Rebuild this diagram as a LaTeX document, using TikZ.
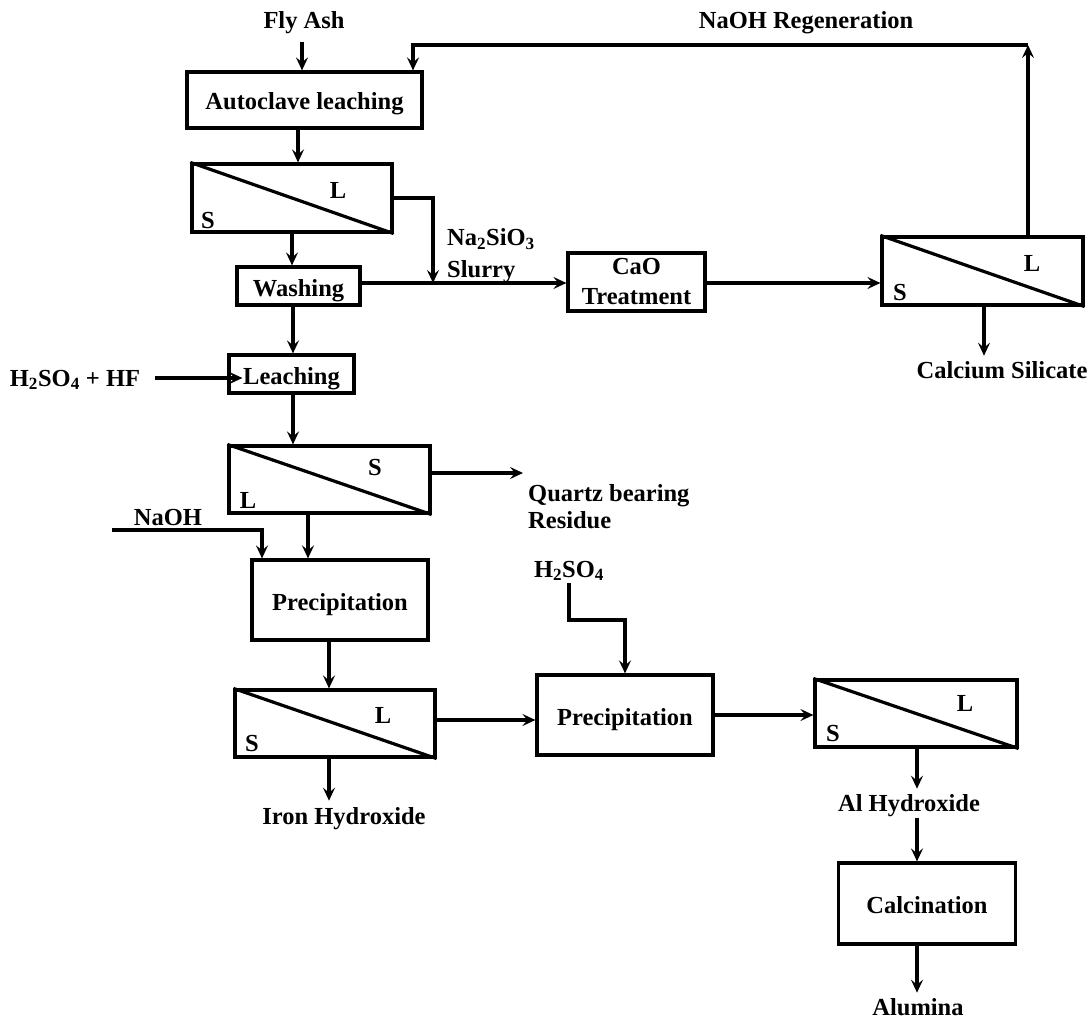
\documentclass[tikz,border=0pt]{standalone}
\usepackage{fontspec}
\setmainfont{Liberation Serif}
\usetikzlibrary{arrows.meta}
\begin{document}
\begin{tikzpicture}[x=1pt,y=-1pt,
  every node/.style={font=\fontsize{24.5}{30}\selectfont\bfseries, inner sep=0pt},
  one/.style={text height=16.2pt, text depth=0pt},
  box/.style={draw, line width=3.2pt, minimum width=#1, inner sep=0pt, text height=20pt, text depth=0pt},
  sepbox/.style={draw, line width=3.2pt, minimum width=#1, inner sep=0pt},
  line/.style={line width=3.2pt},
  arr/.style={line width=3.2pt, -{Stealth[length=13pt,width=12pt,inset=5pt]}}]
\useasboundingbox (0,0) rectangle (1091,1019);
% process boxes
\node[box=235, minimum height=56] (auto) at (304.5,100) {Autoclave leaching};
\node[sepbox=200, minimum height=68] (sep1) at (292,198) {};
\node[box=123, minimum height=38] (wash) at (298.5,286) {Washing};
\node[draw, line width=3.2pt, minimum width=137, minimum height=58, align=center] (cao) at (636.5,282) {CaO\\Treatment};
\node[sepbox=201, minimum height=68] (sep2) at (982.5,271) {};
\node[box=125, minimum height=38] (leach) at (291.5,374) {Leaching};
\node[sepbox=201, minimum height=67] (sep3) at (329.5,479.5) {};
\node[box=176, minimum height=80] (prec1) at (340,600) {Precipitation};
\node[sepbox=200, minimum height=67] (sep4) at (335,723.5) {};
\node[box=176, minimum height=80] (prec2) at (625,715) {Precipitation};
\node[sepbox=202, minimum height=67] (sep5) at (916,713.5) {};
\node[box=177, minimum height=81] (calc) at (927,903.5) {Calcination};
% diagonals
\foreach \s in {sep1,sep2,sep3,sep4,sep5}
  \draw[line] (\s.north west) -- (\s.south east);
% S / L letters
\node[one] (s1L) at (338,190) {L};
\node[one] (s1S) at (208,220) {S};
\node[one] (s2L) at (1032,263) {L};
\node[one] (s2S) at (900,292) {S};
\node[one] (s3S) at (375,467) {S};
\node[one] (s3L) at (248,500) {L};
\node[one] (s4L) at (383,715) {L};
\node[one] (s4S) at (252,743) {S};
\node[one] (s5L) at (965,703) {L};
\node[one] (s5S) at (833,733) {S};
% labels
\node[one] (flyash) at (304,20) {Fly Ash};
\node[one] (regen) at (806,20) {NaOH Regeneration};
\node[anchor=west, align=left, font=\fontsize{24.5}{32}\selectfont\bfseries] (slurry) at (447,256) {Na\textsubscript{2}SiO\textsubscript{3}\\Slurry};
\node[one] (acid) at (75,378) {H\textsubscript{2}SO\textsubscript{4} + HF};
\node[anchor=west, align=left, font=\fontsize{24.5}{27}\selectfont\bfseries] (quartz) at (528,507) {Quartz bearing\\Residue};
\node[one] (naoh) at (168,517) {NaOH};
\node[one] (csil) at (1002,370) {Calcium Silicate};
\node[one] (iron) at (344,816) {Iron Hydroxide};
\node[one] (h2so4) at (569,569) {H\textsubscript{2}SO\textsubscript{4}};
\node[one] (alhyd) at (909,803) {Al Hydroxide};
\node[one] (alumina) at (918,1007) {Alumina};
% helper coordinates
\coordinate (fa) at (302,42);
\coordinate (rt) at (1028,45);
\coordinate (rl) at (413,45);
\coordinate (c298) at (298,0);
\coordinate (c292) at (292,0);
\coordinate (c293) at (293,0);
\coordinate (j1) at (433,283);
\coordinate (r283) at (0,283);
\coordinate (n0) at (112,530);
\coordinate (c262) at (262,0);
\coordinate (c308) at (308,0);
\coordinate (c329) at (329,0);
\coordinate (c984) at (984,0);
\coordinate (c917) at (917,0);
\coordinate (r473) at (0,473);
\coordinate (r720) at (0,720);
\coordinate (r715) at (0,715);
\coordinate (h1) at (569,620);
% connectors
\draw[arr] (fa) -- (fa |- auto.north);
\draw[arr] (sep2.north -| rt) -- (rt);
\draw[arr] (rt) -- (rl) -- (rl |- auto.north);
\draw[arr] (auto.south -| c298) -- (sep1.north -| c298);
\draw[arr] (sep1.south -| c292) -- (wash.north -| c292);
\draw[arr] (sep1.east) -| (j1);
\draw[arr] (wash.east |- r283) -- (cao.west |- r283);
\draw[arr] (cao.east |- r283) -- (sep2.west |- r283);
\draw[arr] (sep2.south -| c984) -- ([yshift=6pt]csil.north -| c984);
\draw[arr] (wash.south -| c293) -- (leach.north -| c293);
\draw[arr] ([xshift=15pt]acid.east) -- ([xshift=15pt]acid.east -| leach.west);
\draw[arr] (leach.south -| c293) -- (sep3.north -| c293);
\draw[arr] (sep3.east |- r473) -- ([xshift=-5pt]quartz.west |- r473);
\draw[arr] (n0) -| (prec1.north -| c262);
\draw[arr] (sep3.south -| c308) -- (prec1.north -| c308);
\draw[arr] (prec1.south -| c329) -- (sep4.north -| c329);
\draw[arr] (sep4.south -| c329) -- ([yshift=7pt]iron.north -| c329);
\draw[arr] (sep4.east |- r720) -- (prec2.west |- r720);
\draw[arr] ([yshift=-6pt]h2so4.south) -- (h1) -| (prec2.north);
\draw[arr] (prec2.east |- r715) -- (sep5.west |- r715);
\draw[arr] (sep5.south -| c917) -- ([yshift=6pt]alhyd.north -| c917);
\draw[arr] ([yshift=-7pt]alhyd.south -| c917) -- (calc.north -| c917);
\draw[arr] (calc.south -| c917) -- ([yshift=6pt]alumina.north -| c917);
\end{tikzpicture}
\end{document}
